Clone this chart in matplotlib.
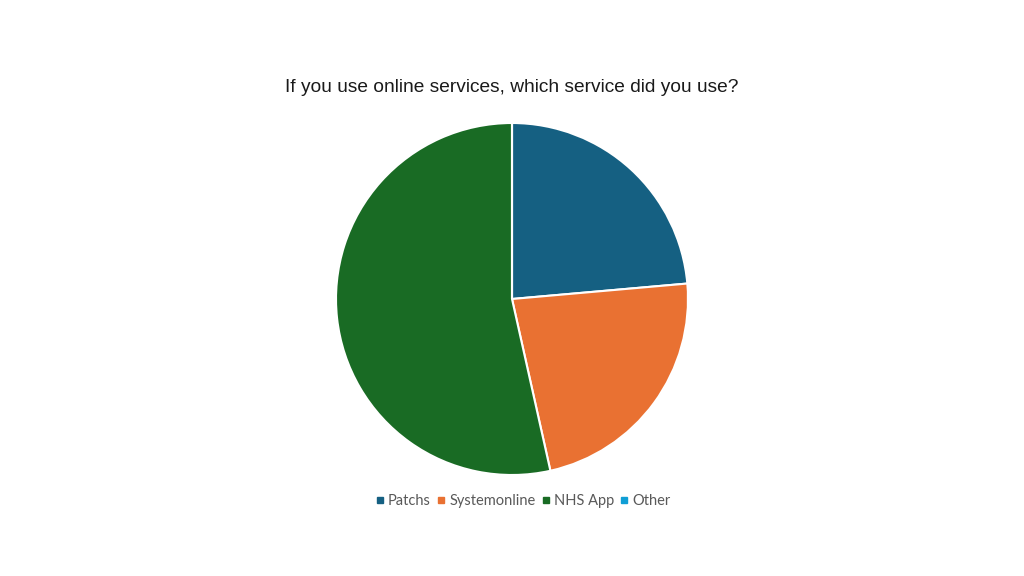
import matplotlib

matplotlib.use("Agg")
import matplotlib.pyplot as plt
from matplotlib.lines import Line2D

# share of respondents per online service (percent)
services = ["Patchs", "Systemonline", "NHS App", "Other"]
shares = [23.6, 22.9, 53.5, 0.0]
colors = ["#156082", "#E97132", "#196B24", "#0F9ED5"]
title = "If you use online services, which service did you use?"

W, H = 1024, 576
fig = plt.figure(figsize=(W / 100, H / 100), dpi=100)

# pie axes: centre (512, 299) px from top, radius 176 px
cx, cy, r = 512, 299, 176
ax = fig.add_axes([(cx - r) / W, (H - cy - r) / H, 2 * r / W, 2 * r / H])
ax.pie(shares, colors=colors, startangle=90, counterclock=False, radius=1,
       wedgeprops=dict(edgecolor="white", linewidth=1.5))
ax.set_xlim(-1.0, 1.0)
ax.set_ylim(-1.0, 1.0)
ax.set_aspect("equal")
ax.axis("off")

fig.text(0.5, 1 - 87 / H, title, ha="center", va="center",
         fontsize=13.8, family="Liberation Sans", color="#1a1a1a")

handles = [Line2D([], [], marker="s", linestyle="none", markersize=5,
                  markerfacecolor=c, markeredgecolor=c) for c in colors]
fig.legend(handles, services, loc="center",
           bbox_to_anchor=(523 / W, 1 - 501 / H),
           ncol=4, frameon=False, handletextpad=0.25, columnspacing=0.4,
           handlelength=0.6, borderpad=0, prop=dict(family="Lato", size=10.5),
           labelcolor="#595959")

fig.savefig("out.png", dpi=100)
